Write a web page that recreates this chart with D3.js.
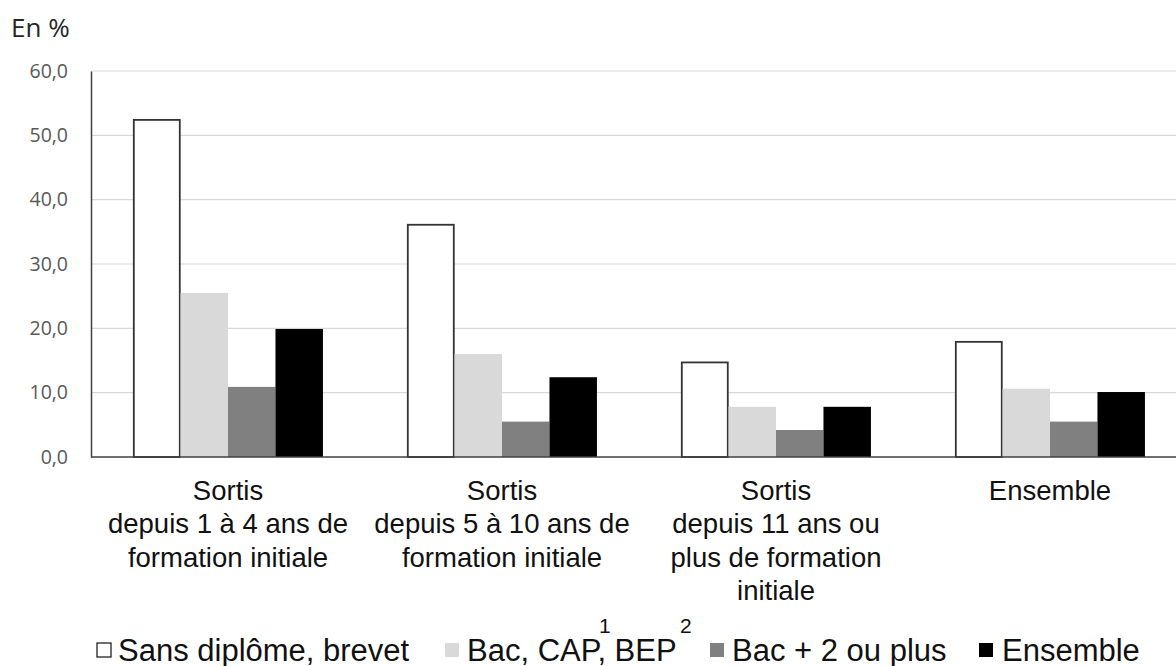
<!DOCTYPE html>
<html>
<head>
<meta charset="utf-8">
<script src="https://cdn.jsdelivr.net/npm/d3@7"></script>
<style>
  body { margin: 0; background: #fff; }
  svg { display: block; }
</style>
</head>
<body>
<div id="chart"></div>
<script>
const categories = [
  ["Sortis", "depuis 1 à 4 ans de", "formation initiale"],
  ["Sortis", "depuis 5 à 10 ans de", "formation initiale"],
  ["Sortis", "depuis 11 ans ou", "plus de formation", "initiale"],
  ["Ensemble"]
];
const seriesNames = ["Sans diplôme, brevet", "Bac, CAP, BEP", "Bac + 2 ou plus", "Ensemble"];
const sansDiplome = [52.4, 36.1, 14.7, 17.9];
const bacCapBep = [25.5, 16.0, 7.8, 10.6];
const bacPlus2 = [10.9, 5.5, 4.2, 5.5];
const ensemble = [19.9, 12.4, 7.8, 10.1];
const yTicks = [0, 10, 20, 30, 40, 50, 60];

const series = [sansDiplome, bacCapBep, bacPlus2, ensemble];
const fills = ["#ffffff", "#d9d9d9", "#808080", "#000000"];

const W = 1176, H = 666;
const svg = d3.select('#chart').append('svg').attr('width', W).attr('height', H);

const x = d3.scaleBand().domain(d3.range(categories.length)).range([91, 1187]).paddingInner(0.307).paddingOuter(0.1535);
const xs = d3.scaleBand().domain(d3.range(series.length)).range([0, x.bandwidth()]);
const y = d3.scaleLinear().domain([0, 60]).range([457, 71]);

// gridlines
svg.append('g').selectAll('line').data(yTicks.filter(t => t > 0)).join('line')
  .attr('x1', 91).attr('x2', W).attr('y1', d => y(d)).attr('y2', d => y(d))
  .attr('stroke', '#d9d9d9').attr('stroke-width', 1.2);

// y axis
const yAxis = svg.append('g').attr('transform', 'translate(91,0)')
  .call(d3.axisLeft(y).tickValues(yTicks).tickSize(0).tickPadding(23).tickFormat(d => d3.format('.1f')(d).replace('.', ',')));
yAxis.select('.domain').attr('stroke', '#404040').attr('stroke-width', 1.5);
yAxis.selectAll('text').style('font-family', '"Open Sans", sans-serif').style('font-size', '19.5px').attr('fill', '#595959');

svg.append('text').attr('x', 11).attr('y', 37).text('En %')
  .style('font-family', '"Open Sans", sans-serif').style('font-size', '26px').attr('fill', '#262626');

// bars
series.forEach((vals, si) => {
  svg.append('g').selectAll('rect').data(vals).join('rect')
    .attr('x', (d, i) => x(i) + xs(si) + (si === 0 ? 0.75 : 0))
    .attr('width', xs.bandwidth() - (si === 0 ? 1.5 : 0))
    .attr('y', d => y(d))
    .attr('height', d => y(0) - y(d))
    .attr('fill', fills[si])
    .attr('stroke', si === 0 ? '#333' : 'none')
    .attr('stroke-width', si === 0 ? 1.8 : 0);
});

// x axis baseline
svg.append('line').attr('x1', 91).attr('x2', W).attr('y1', y(0)).attr('y2', y(0))
  .attr('stroke', '#404040').attr('stroke-width', 1.5);

// category labels
categories.forEach((lines, i) => {
  const t = svg.append('text').attr('text-anchor', 'middle')
    .style('font-family', '"Liberation Sans", Arial, sans-serif').style('font-size', '27.5px').attr('fill', '#111');
  lines.forEach((l, j) => {
    t.append('tspan').attr('x', x(i) + x.bandwidth() / 2).attr('y', 500 + j * 33.3).text(l);
  });
});

// legend
const legendItems = [
  {x: 97, tx: 118},
  {x: 445, tx: 467},
  {x: 710, tx: 732},
  {x: 979, tx: 1002}
];
const lg = svg.append('g');
legendItems.forEach((it, i) => {
  lg.append('rect').attr('x', it.x).attr('y', 643).attr('width', 14).attr('height', 14)
    .attr('fill', fills[i]).attr('stroke', i === 0 ? '#222' : 'none').attr('stroke-width', 1.3);
  lg.append('text').attr('x', it.tx).attr('y', 661).text(seriesNames[i])
    .style('font-family', '"Liberation Sans", Arial, sans-serif').style('font-size', '31px').attr('fill', '#111');
});
[["1", 599], ["2", 680]].forEach(([s, sx]) => {
  lg.append('text').attr('x', sx).attr('y', 633).text(s)
    .style('font-family', '"Liberation Sans", Arial, sans-serif').style('font-size', '21px').attr('fill', '#111');
});
</script>
</body>
</html>
